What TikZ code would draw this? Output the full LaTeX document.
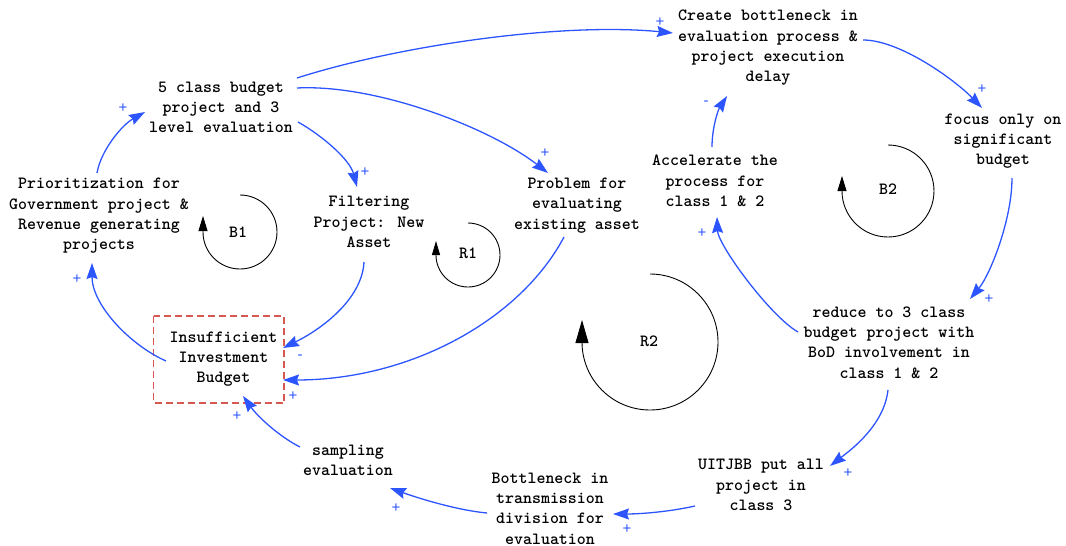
\documentclass[tikz,border=0pt]{standalone}
\usepackage{fontspec}
\newfontfamily\signfont{Liberation Sans}
\usetikzlibrary{arrows.meta,calc}
\definecolor{linkblue}{RGB}{45,85,255}
\definecolor{boxred}{RGB}{214,88,80}
\newcommand{\diagfont}{\ttfamily\bfseries}

\begin{document}
\begin{tikzpicture}[x=1pt,y=1pt,
  var/.style={font=\diagfont\fontsize{17.1}{20.3}\selectfont, align=center, inner sep=0pt},
  link/.style={draw=linkblue, line width=1.3pt, -{Stealth[length=16pt,width=11pt,inset=2pt]}},
  pol/.style={text=linkblue, font=\signfont\fontsize{15}{15}\selectfont, inner sep=0pt},
  loopline/.style={draw=black, line width=0.9pt},
  looplabel/.style={font=\diagfont\fontsize{17.1}{18}\selectfont, inner sep=0pt},
  riskbox/.style={draw=boxred, line width=1.2pt, dash pattern=on 7pt off 4pt},
  ]
\useasboundingbox (0,0) rectangle (1066,-546);

% variables
\node[var] (n1) at (221,-107.5) {5 class budget\\project and 3\\level evaluation};
\node[var] (n2) at (99,-216) {Prioritization for\\Government project \&\\Revenue generating\\projects};
\node[var] (n3) at (369,-222) {Filtering\\Project: New\\Asset};
\node[var] (n4) at (577,-205.5) {Problem for\\evaluating\\existing asset};
\node[var] (n5) at (768,-48) {Create bottleneck in\\evaluation process \&\\project execution\\delay};
\node[var] (n6) at (1003,-141) {focus only on\\significant\\budget};
\node[var] (n7) at (715,-181) {Accelerate the\\process for\\class 1 \& 2};
\node[var] (n8) at (889,-342.5) {reduce to 3 class\\budget project with\\BoD involvement in\\class 1 \& 2};
\node[var] (n9) at (761,-485) {UITJBB put all\\project in\\class 3};
\node[var] (n10) at (550,-508.5) {Bottleneck in\\transmission\\division for\\evaluation};
\node[var] (n11) at (348,-460.5) {sampling\\evaluation};
\node[var] (n12) at (223.5,-359) {Insufficient\\Investment\\Budget};
\draw[riskbox] ($(n12)+(-70,43)$) rectangle ($(n12)+(60.5,-44)$);

% causal links
\draw[link] ($(n2)+(-2,43)$) .. controls (101,-150) and (122,-125) .. ($(n1)+(-76,-4.5)$);
\draw[link] ($(n1)+(77,-14.5)$) .. controls (323,-136) and (350,-160) .. ($(n3)+(-12,35)$);
\draw[link] ($(n1)+(76,19.5)$) .. controls (377,-84) and (490,-128) .. ($(n4)+(-29,32.5)$);
\draw[link] ($(n1)+(76,29.5)$) .. controls (397,-46) and (560,-22) .. ($(n5)+(-95,15)$);
\draw[link] ($(n5)+(95,8)$) .. controls (900,-40) and (955,-80) .. ($(n6)+(-21,33)$);
\draw[link] ($(n6)+(9,-37)$) .. controls (1012,-220) and (990,-275) .. ($(n8)+(81,43.5)$);
\draw[link] ($(n8)+(-91,10.5)$) .. controls (770,-316) and (718,-245) .. ($(n7)+(2,-36)$);
\draw[link] ($(n7)+(-3,34)$) .. controls (712,-128) and (718,-110) .. ($(n5)+(-41,-48)$);
\draw[link] ($(n8)+(-1,-47.5)$) .. controls (884,-425) and (852,-449) .. ($(n9)+(69,19)$);
\draw[link] ($(n9)+(-66,-21)$) .. controls (668,-512) and (640,-514) .. ($(n10)+(63,-5.5)$);
\draw[link] ($(n10)+(-63,-4.5)$) .. controls (455,-510) and (415,-497) .. ($(n11)+(42,-27.5)$);
\draw[link] ($(n11)+(-48,13.5)$) .. controls (280,-437) and (258,-417) .. ($(n12)+(19.5,-37)$);
\draw[link] ($(n3)+(-5,-40)$) .. controls (362,-300) and (320,-330) .. ($(n12)+(59.5,11)$);
\draw[link] ($(n4)+(-13,-31.5)$) .. controls (520,-320) and (410,-380) .. ($(n12)+(59.5,-21)$);
\draw[link] ($(n12)+(-57.5,-2)$) .. controls (130,-345) and (92,-305) .. ($(n2)+(-7,-47)$);

% link polarities
\node[pol] (pa) at (123,-108) {+};
\node[pol] (pb) at (365,-172) {+};
\node[pol] (pc) at (545,-153) {+};
\node[pol] (pd) at (660,-22) {+};
\node[pol] (pe) at (982,-89) {+};
\node[pol] (pf) at (989,-299) {+};
\node[pol] (pg) at (702,-233) {+};
\node[pol] (ph) at (706,-103) {-};
\node[pol] (pi) at (848,-473) {+};
\node[pol] (pj) at (627,-529) {+};
\node[pol] (pk) at (396,-508) {+};
\node[pol] (pl) at (237,-416) {+};
\node[pol] (pm) at (300,-357) {-};
\node[pol] (pn) at (293,-396) {+};
\node[pol] (po) at (77,-279) {+};

% feedback loop markers
\draw[loopline, -{Triangle[length=15pt,width=9pt]}] (240,-195) arc[start angle=90,end angle=-180,radius=37] -- ++(0,16);
\node[looplabel] (b1) at (238,-232) {B1};
\draw[loopline, -{Triangle[length=14pt,width=8pt]}] (468,-223) arc[start angle=90,end angle=-180,radius=32] -- ++(0,14);
\node[looplabel] (r1) at (468,-253) {R1};
\draw[loopline, -{Triangle[length=15pt,width=9pt]}] (888,-145) arc[start angle=90,end angle=-180,radius=46] -- ++(0,15);
\node[looplabel] (b2) at (888,-189) {B2};
\draw[loopline, -{Triangle[length=23pt,width=13pt]}] (650,-274) arc[start angle=90,end angle=-180,radius=68] -- ++(0,22);
\node[looplabel] (r2) at (649,-341) {R2};
\end{tikzpicture}
\end{document}
